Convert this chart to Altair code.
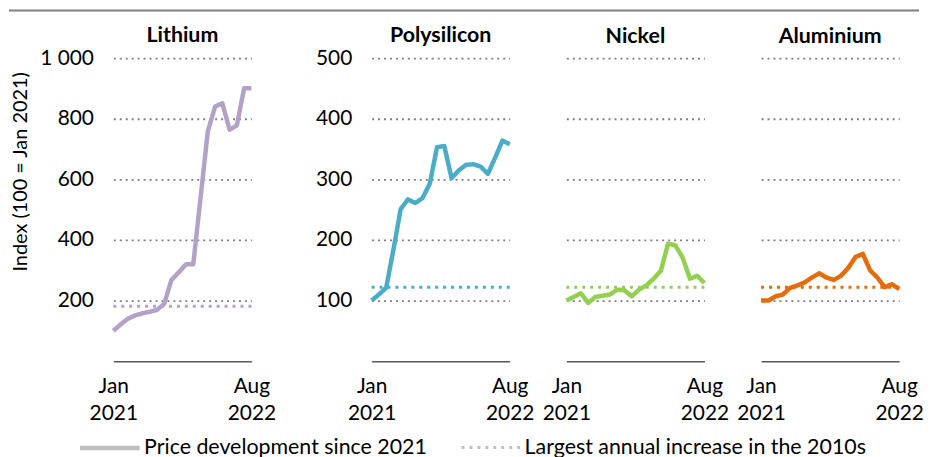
import altair as alt
import pandas as pd

months = ["Jan 2021", "Feb 2021", "Mar 2021", "Apr 2021", "May 2021", "Jun 2021",
          "Jul 2021", "Aug 2021", "Sep 2021", "Oct 2021", "Nov 2021", "Dec 2021",
          "Jan 2022", "Feb 2022", "Mar 2022", "Apr 2022", "May 2022", "Jun 2022",
          "Jul 2022", "Aug 2022"]

lithium = [100, 121, 140, 151, 158, 163, 169, 189, 268, 293, 320, 320, 539, 758,
           840, 851, 764, 778, 901, 901]
polysilicon = [100, 110, 121, 184, 251, 267, 261, 269, 293, 353, 355, 302, 315, 324,
               325, 321, 309, 336, 364, 358]
nickel = [100, 106, 112, 96, 106, 108, 110, 118, 117, 107, 118, 125, 136, 149,
          194, 191, 171, 136, 141, 129]
aluminium = [100, 100, 107, 110, 121, 125, 130, 138, 145, 138, 134, 141, 154, 172,
             177, 150, 138, 122, 127, 119]

minerals = ["Lithium", "Polysilicon", "Nickel", "Aluminium"]
series = [lithium, polysilicon, nickel, aluminium]
largest_increase = [181, 122, 122, 122]
colors = ["#B3A2C7", "#4BACC6", "#92D050", "#E46C0A"]
y_max = [1000, 500, 500, 500]
y_ticks = [[200, 400, 600, 800, 1000], [100, 200, 300, 400, 500],
           [100, 200, 300, 400, 500], [100, 200, 300, 400, 500]]
x_tick_labels = [["Jan", "2021"], ["Aug", "2022"]]
legend_labels = ["Price development since 2021", "Largest annual increase in the 2010s"]
y_title = "Index (100 = Jan 2021)"

FONT = "Lato"
FS = 21
PANEL_W = 139
PANEL_H = 305
TITLE_DY = [51, 13, 3, 3]

legend = alt.Legend(title=None, orient="none", legendX=-36, legendY=360,
                    direction="horizontal", symbolType="stroke", symbolSize=3600,
                    symbolStrokeColor="#BFBFBF", labelFontSize=21.5, labelFont=FONT,
                    labelColor="black", labelLimit=600, columnPadding=28,
                    labelOffset=2, padding=0)
dash_enc = alt.StrokeDash(
    "kind:O", scale=alt.Scale(domain=legend_labels, range=[[1, 0], [3, 5]]),
    legend=legend)
width_enc = alt.StrokeWidth(
    "kind:O", scale=alt.Scale(domain=legend_labels, range=[4.5, 3]), legend=legend)


def panel(i):
    name = minerals[i]
    df = pd.DataFrame({"m": list(range(len(months))), "month": months,
                       "v": series[i], "kind": legend_labels[0]})
    ref = pd.DataFrame({"v": [largest_increase[i]], "kind": [legend_labels[1]]})

    xscale = alt.Scale(domain=[0, len(months) - 1], nice=False, zero=False)
    yscale = alt.Scale(domain=[0, y_max[i]], nice=False, zero=True)

    label_expr = ("datum.value == 0 ? " + str(x_tick_labels[0]) + " : " + str(x_tick_labels[1]))
    xaxis = alt.Axis(values=[0, len(months) - 1], labelExpr=label_expr, title=None,
                     grid=False, ticks=False, domain=True, domainColor="#595959",
                     domainWidth=1.5, labelFlush=False, labelOverlap=False,
                     labelFontSize=FS, labelFont=FONT, labelColor="black",
                     labelPadding=15, labelLineHeight=27, labelBaseline="top")

    yargs = dict(values=y_ticks[i], grid=True, gridDash=[2, 4], gridColor="#7F7F7F",
                 gridWidth=1.8, domain=False, ticks=False, labelFontSize=FS,
                 labelFont=FONT, labelColor="black", labelPadding=20)
    if i == 0:
        yargs.update(title=y_title, titleFont=FONT, titleFontSize=20,
                     titleFontWeight="normal", titleColor="black", titleAngle=270,
                     titleX=-93, titleY=114, titleAlign="center",
                     titleBaseline="middle",
                     labelExpr="replace(format(datum.value, ','), ',', ' ')")
    else:
        yargs.update(title=None)
    if i >= 2:
        yargs.update(labels=False)
    yaxis = alt.Axis(**yargs)

    line = alt.Chart(df).mark_line(color=colors[i], strokeJoin="round",
                                   clip=False).encode(
        x=alt.X("m:Q", scale=xscale, axis=xaxis),
        y=alt.Y("v:Q", scale=yscale, axis=yaxis),
        strokeDash=dash_enc,
        strokeWidth=width_enc,
    )
    rule = alt.Chart(ref).mark_rule(color=colors[i], strokeCap="butt").encode(
        y=alt.Y("v:Q", scale=yscale, axis=yaxis),
        strokeDash=dash_enc,
        strokeWidth=width_enc,
    )
    layers = [rule, line]
    if i == 0:
        top_line = alt.Chart(pd.DataFrame({"a": [0]})).mark_rule(
            color="#7F7F7F", strokeWidth=2).encode(
            x=alt.value(-105), x2=alt.value(811), y=alt.value(-48))
        layers.append(top_line)
    return alt.layer(*layers).properties(
        width=PANEL_W, height=PANEL_H,
        title=alt.TitleParams(name, fontSize=21.5, font=FONT, fontWeight="bold",
                              color="black", anchor="middle", offset=14,
                              dy=TITLE_DY[i]),
    )


right = alt.hconcat(panel(1), panel(2), panel(3), spacing=57, bounds="flush")
chart = alt.hconcat(panel(0), right, spacing=121, bounds="flush").properties(
    padding=0
).configure(font=FONT).configure_view(
    strokeWidth=0, stroke="transparent"
).configure_axisX(grid=False, domain=True, domainColor="#595959", domainWidth=1.5)

chart.save("out.html", embed_options={"renderer": "svg", "actions": False})
